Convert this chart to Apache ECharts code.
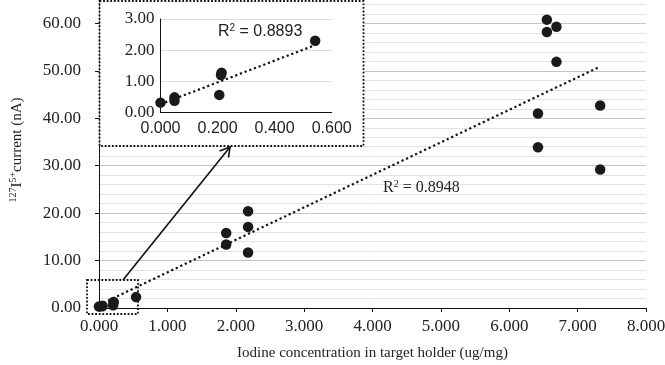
<!DOCTYPE html>
<html><head><meta charset="utf-8">
<script src="https://cdn.jsdelivr.net/npm/echarts@6/dist/echarts.min.js"></script>
<style>html,body{margin:0;padding:0;background:#fff}#c{width:665px;height:365px}</style>
</head><body><div id="c"></div>
<script>
// ---- data ----
const lowX  = [0.000, 0.049, 0.049, 0.206, 0.214, 0.212, 0.542];
const lowY  = [0.31, 0.48, 0.37, 0.56, 1.27, 1.20, 2.30];
const highX = [1.86, 1.86, 2.18, 2.18, 2.18, 6.42, 6.42, 6.55, 6.55, 6.69, 6.69, 7.33, 7.33];
const highY = [15.8, 13.4, 20.4, 17.1, 11.7, 41.0, 33.9, 60.8, 58.2, 59.3, 51.9, 42.7, 29.2];
const mainTrendX  = [0, 7.3];
const mainTrendY  = [0.65, 50.7];
const insetTrendX = [0, 0.542];
const insetTrendY = [0.26, 2.16];
const mainXTicks  = [0, 1, 2, 3, 4, 5, 6, 7, 8];
const mainYTicks  = [0, 10, 20, 30, 40, 50, 60];
const insetXTicks = [0, 0.2, 0.4, 0.6];
const insetYTicks = [0, 1, 2, 3];
const mainR2  = '0.8948';
const insetR2 = '0.8893';
const xTitle = 'Iodine concentration in target holder (ug/mg)';

const zip = (a, b) => a.map((v, i) => [v, b[i]]);
const allMain = zip(lowX, lowY).concat(zip(highX, highY));
const serif = "'Liberation Serif', 'DejaVu Serif', serif";
const sans = "'Liberation Sans', Arial, sans-serif";
const txt = '#222';

const chart = echarts.init(document.getElementById('c'), null, {renderer: 'canvas'});
chart.setOption({
  animation: false,
  backgroundColor: '#fff',
  grid: [
    {left: 99, right: 19, top: -24, bottom: 57, containLabel: false, outerBoundsMode: 'none'},
    {left: 160.5, right: 333.3, top: 19, bottom: 252.7, containLabel: false, outerBoundsMode: 'none'}
  ],
  xAxis: [
    {
      gridIndex: 0, type: 'value', min: mainXTicks[0], max: mainXTicks[mainXTicks.length - 1], interval: 1,
      axisLine: {show: true, lineStyle: {color: '#111', width: 1}},
      axisTick: {show: true, length: 4, lineStyle: {color: '#111'}},
      splitLine: {show: false},
      axisLabel: {color: txt, fontFamily: serif, fontSize: 17, margin: 10, formatter: v => v.toFixed(3)},
      name: xTitle, nameLocation: 'middle', nameGap: 38,
      nameTextStyle: {color: txt, fontFamily: serif, fontSize: 15}
    },
    {
      gridIndex: 1, type: 'value', min: insetXTicks[0], max: insetXTicks[insetXTicks.length - 1], interval: 0.2,
      z: 4,
      axisLine: {show: true, onZero: false, lineStyle: {color: '#111', width: 1}},
      axisTick: {show: false},
      splitLine: {show: false},
      axisLabel: {color: txt, fontFamily: sans, fontSize: 16, margin: 8, formatter: v => v.toFixed(3)}
    }
  ],
  yAxis: [
    {
      gridIndex: 0, type: 'value', min: mainYTicks[0], max: 70, interval: 10,
      axisLine: {show: true, lineStyle: {color: '#111', width: 1}},
      axisTick: {show: true, length: 4, lineStyle: {color: '#111'}},
      minorTick: {show: false, splitNumber: 5},
      splitLine: {show: true, lineStyle: {color: '#c4c4c4', width: 1}},
      minorSplitLine: {show: true, lineStyle: {color: '#e2e2e2', width: 1}},
      axisLabel: {color: txt, fontFamily: serif, fontSize: 17, margin: 18, formatter: v => v.toFixed(2)}
    },
    {
      gridIndex: 1, type: 'value', min: insetYTicks[0], max: insetYTicks[insetYTicks.length - 1], interval: 1,
      z: 4,
      axisLine: {show: true, onZero: false, lineStyle: {color: '#111', width: 1}},
      axisTick: {show: false},
      splitLine: {show: true, lineStyle: {color: '#dcdcdc', width: 1}},
      axisLabel: {color: txt, fontFamily: serif, fontSize: 17, margin: 6, formatter: v => v.toFixed(2)}
    }
  ],
  series: [
    {
      type: 'line', xAxisIndex: 0, yAxisIndex: 0, z: 2,
      data: zip(mainTrendX, mainTrendY), symbol: 'none', silent: true,
      lineStyle: {color: '#111', width: 2.2, type: [2.2, 2.8]}
    },
    {
      type: 'scatter', xAxisIndex: 0, yAxisIndex: 0, z: 3,
      data: allMain, symbolSize: 10.5, itemStyle: {color: '#1a1a1a', opacity: 1}
    },
    {
      type: 'line', xAxisIndex: 1, yAxisIndex: 1, z: 5,
      data: zip(insetTrendX, insetTrendY), symbol: 'none', silent: true,
      lineStyle: {color: '#111', width: 2.2, type: [2.2, 2.8]}
    },
    {
      type: 'scatter', xAxisIndex: 1, yAxisIndex: 1, z: 6,
      data: zip(lowX, lowY), symbolSize: 10.5, itemStyle: {color: '#1a1a1a', opacity: 1}
    }
  ],
  graphic: [
    {
      type: 'rect', z: 3, silent: true,
      shape: {x: 99.5, y: 1, width: 264, height: 145},
      style: {fill: '#fff', stroke: '#111', lineWidth: 1.8, lineDash: [1.8, 1.8]}
    },
    {
      type: 'rect', z: 3, silent: true,
      shape: {x: 87, y: 280, width: 51, height: 34},
      style: {fill: 'none', stroke: '#111', lineWidth: 1.8, lineDash: [1.8, 1.8]}
    },
    {
      type: 'line', z: 3, silent: true,
      shape: {x1: 123, y1: 280, x2: 230, y2: 147},
      style: {stroke: '#111', lineWidth: 1.6}
    },
    {
      type: 'polyline', z: 3, silent: true,
      shape: {points: [[219.5, 151], [230, 147], [228.5, 157.5]]},
      style: {stroke: '#111', lineWidth: 1.6, fill: null}
    },
    {
      type: 'text', z: 8, silent: true, x: 383, y: 188,
      style: {
        text: 'R{sup|2} = ' + mainR2, fill: txt, font: '16px ' + serif,
        verticalAlign: 'middle', align: 'left',
        rich: {sup: {fontSize: 10, fontFamily: serif, fill: txt, verticalAlign: 'top', lineHeight: 18}}
      }
    },
    {
      type: 'text', z: 8, silent: true, x: 218, y: 32,
      style: {
        text: 'R{sup|2} = ' + insetR2, fill: txt, font: '16px ' + sans,
        verticalAlign: 'middle', align: 'left',
        rich: {sup: {fontSize: 10, fontFamily: sans, fill: txt, verticalAlign: 'top', lineHeight: 18}}
      }
    },
    {
      type: 'text', z: 8, silent: true, x: 17, y: 150, rotation: Math.PI / 2,
      style: {
        text: '{sup|127}I{sup|5+}current (nA)', fill: txt, font: '15px ' + serif,
        align: 'center', verticalAlign: 'middle',
        rich: {sup: {fontSize: 10, fontFamily: serif, fill: txt, verticalAlign: 'top', lineHeight: 18}}
      }
    }
  ]
});
</script>
</body></html>
